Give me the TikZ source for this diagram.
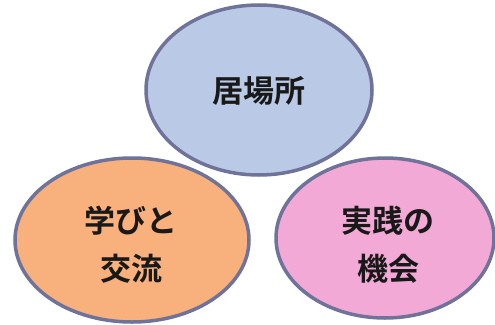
\documentclass[tikz,border=0pt]{standalone}
\usepackage{fontspec}
\newfontfamily\jpfont{Noto Sans CJK JP}[BoldFont={* Bold}]
\usetikzlibrary{shapes.geometric}
\definecolor{rim}{HTML}{6F7399}
\definecolor{bluefill}{HTML}{BACAE6}
\definecolor{orangefill}{HTML}{F8B07C}
\definecolor{pinkfill}{HTML}{F2A9D5}
\tikzset{
  blob/.style={ellipse, draw=rim, line width=3.5pt, inner sep=0pt},
  lbl/.style={font=\jpfont\bfseries\fontsize{31}{48}\selectfont, text=black!90, align=center}
}
\begin{document}
\begin{tikzpicture}[x=1pt,y=-1pt]
\useasboundingbox[fill=white] (0,0) rectangle (495,324);
\node[blob, fill=bluefill, minimum width=226pt, minimum height=170pt] (top) at (259,90) {};
\node[blob, fill=orangefill, minimum width=234pt, minimum height=164pt] (left) at (132,240) {};
\node[blob, fill=pinkfill, minimum width=218pt, minimum height=160pt] (right) at (385,238) {};
\node[lbl] (t1) at (259,91) {居場所};
\node[lbl] (l1) at (131,221) {学びと};
\node[lbl] (l2) at (131,269) {交流};
\node[lbl] (r1) at (388,221) {実践の};
\node[lbl] (r2) at (388,269) {機会};
\end{tikzpicture}
\end{document}
